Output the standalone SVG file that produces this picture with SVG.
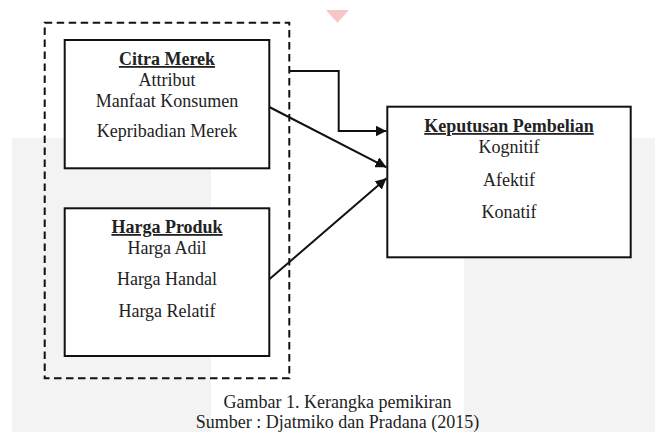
<svg xmlns="http://www.w3.org/2000/svg" width="655" height="432" viewBox="0 0 655 432">
<style>
  .t { font-family: "Liberation Serif", "Times New Roman", serif; font-size: 18px; fill: #222; text-anchor: middle; }
  .h { font-weight: bold; text-decoration: underline; }
  .box { fill: #fff; stroke: #111; stroke-width: 2; }
  .dash { fill: none; stroke: #111; stroke-width: 2; stroke-dasharray: 7.5 4.5; }
  .conn { fill: none; stroke: #111; stroke-width: 2; }
</style>
<defs>
  <marker id="arr" viewBox="0 0 10 10" refX="10" refY="5" markerWidth="5.5" markerHeight="5.5" markerUnits="strokeWidth" orient="auto">
    <path d="M0,0 L10,5 L0,10 Z" fill="#111"/>
  </marker>
</defs>
<rect x="0" y="0" width="655" height="432" fill="#fff"/>
<g id="background">
  <rect x="12" y="138" width="643" height="294" fill="#f3f3f3"/>
  <rect x="211" y="138" width="253" height="294" fill="#fff"/>
  <path d="M326,10 L349,10 L337.5,23 Z" fill="#f7c6c6"/>
</g>
<g id="group-dashed">
  <rect class="dash" x="44.7" y="22.7" width="244.6" height="355.6"/>
</g>
<g id="citra-merek">
  <rect class="box" x="64.7" y="40" width="204.6" height="128.3"/>
  <text class="t h" x="167" y="65">Citra Merek</text>
  <text class="t" x="167" y="86">Attribut</text>
  <text class="t" x="167" y="107">Manfaat Konsumen</text>
  <text class="t" x="167" y="137">Kepribadian Merek</text>
</g>
<g id="harga-produk">
  <rect class="box" x="64.7" y="208.3" width="204.6" height="147.7"/>
  <text class="t h" x="167" y="233">Harga Produk</text>
  <text class="t" x="167" y="253.5">Harga Adil</text>
  <text class="t" x="167" y="285">Harga Handal</text>
  <text class="t" x="167" y="316.7">Harga Relatif</text>
</g>
<g id="keputusan-pembelian">
  <rect class="box" x="387.3" y="106.7" width="243.4" height="150.6"/>
  <text class="t h" x="509" y="132">Keputusan Pembelian</text>
  <text class="t" x="509" y="153">Kognitif</text>
  <text class="t" x="509" y="186">Afektif</text>
  <text class="t" x="509" y="217.5">Konatif</text>
</g>
<g id="connectors">
  <polyline class="conn" points="289.3,71 338.7,71 338.7,131 386.5,131" marker-end="url(#arr)"/>
  <line class="conn" x1="269.3" y1="107" x2="386.5" y2="167.3" marker-end="url(#arr)"/>
  <line class="conn" x1="269.3" y1="279.3" x2="386.5" y2="178.3" marker-end="url(#arr)"/>
</g>
<g id="caption">
  <text class="t" x="337.5" y="408.3">Gambar 1. Kerangka pemikiran</text>
  <text class="t" x="337.5" y="428.3">Sumber : Djatmiko dan Pradana (2015)</text>
</g>
</svg>
